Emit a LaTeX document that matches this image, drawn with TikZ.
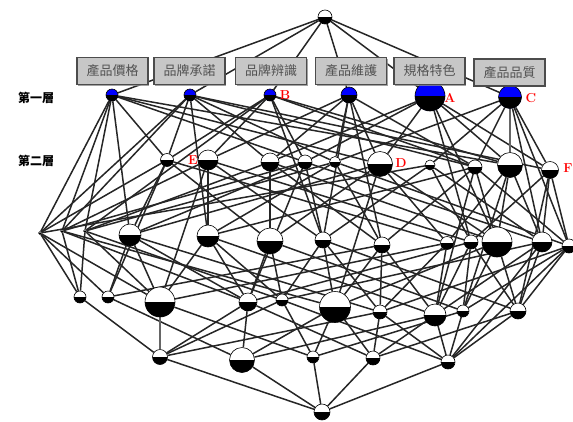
\documentclass[tikz,border=0pt]{standalone}
\usepackage{fontspec}
\newfontfamily\cjk{Noto Sans CJK TC}
\usetikzlibrary{shadows,backgrounds}
\tikzset{
  wn/.style={circle, draw=black, line width=0.6pt, fill=white, inner sep=0pt, minimum size=#1,
    path picture={\fill[black] (path picture bounding box.west) rectangle (path picture bounding box.south east);}},
  bn/.style={wn=#1, fill=blue},
  ed/.style={draw=black!85, line width=1.5pt},
  thk/.style={draw=black!60, line width=2.8pt},
  attr/.style={draw=black!70, line width=1.3pt, fill=black!22, minimum width=71pt, minimum height=27pt,
    inner sep=0pt, text=black!68, font=\cjk\fontsize{13}{13}\selectfont,
    drop shadow={shadow xshift=1.2pt, shadow yshift=-1.2pt, fill=black!45, opacity=0.8}},
  lbl/.style={text=red, inner sep=0pt, font=\bfseries\fontsize{13}{13}\selectfont},
  lay/.style={inner sep=0pt, font=\cjk\bfseries\fontsize{12}{12}\selectfont}
}
\begin{document}
\begin{tikzpicture}[x=1pt,y=-1pt]
\useasboundingbox (0,0) rectangle (573,421);
% top
\node[wn=14pt] (T) at (325,17) {};
% level 1
\node[bn=12pt] (A1) at (112,95) {};
\node[bn=12pt] (A2) at (190,95) {};
\node[bn=12pt] (A3) at (270,95) {};
\node[bn=16pt] (A4) at (349,95) {};
\node[bn=30pt] (A5) at (430,96) {};
\node[bn=23pt] (A6) at (510,97) {};
% level 2
\node[wn=13pt] (B1) at (167,160) {};
\node[wn=20pt] (B2) at (208,160) {};
\node[wn=18pt] (B3) at (270,162) {};
\node[wn=14pt] (B4) at (305,162) {};
\node[wn=11pt] (B5) at (335,162) {};
\node[wn=25pt] (B6) at (380,164) {};
\node[wn=10pt] (B7) at (430,165) {};
\node[wn=14pt] (B8) at (475,167) {};
\node[wn=25pt] (B9) at (510,165) {};
\node[wn=17pt] (B10) at (550,170) {};
% level 3
\node[wn=3pt] (C0) at (40,233) {};
\node[wn=3pt] (C1) at (62,231) {};
\node[wn=3pt] (C2) at (85,231) {};
\node[wn=22pt] (C3) at (130,235) {};
\node[wn=22pt] (C4) at (208,236) {};
\node[wn=26pt] (C5) at (270,241) {};
\node[wn=16pt] (C6) at (323,240) {};
\node[wn=16pt] (C7) at (382,245) {};
\node[wn=13pt] (C8) at (447,243) {};
\node[wn=14pt] (C9) at (471,242) {};
\node[wn=30pt] (C10) at (497,242) {};
\node[wn=20pt] (C11) at (542,242) {};
\node[wn=14pt] (C12) at (569,246) {};
% level 4
\node[wn=12pt] (D1) at (80,297) {};
\node[wn=12pt] (D2) at (108,297) {};
\node[wn=30pt] (D3) at (160,302) {};
\node[wn=18pt] (D4) at (248,302) {};
\node[wn=12pt] (D5) at (282,300) {};
\node[wn=31pt] (D6) at (335,307) {};
\node[wn=14pt] (D7) at (380,312) {};
\node[wn=22pt] (D8) at (435,315) {};
\node[wn=12pt] (D9) at (463,311) {};
\node[wn=16pt] (D10) at (518,311) {};
% level 5
\node[wn=15pt] (E1) at (160,357) {};
\node[wn=25pt] (E2) at (242,360) {};
\node[wn=12pt] (E3) at (313,357) {};
\node[wn=14pt] (E4) at (373,358) {};
\node[wn=14pt] (E5) at (448,362) {};
% bottom
\node[wn=16pt] (Z) at (322,412) {};

% ---------- edges behind nodes ----------
\begin{pgfonlayer}{background}
\foreach \a/\b in {T/A1,T/A2,T/A3,T/A4,T/A5,T/A6,
  A1/C0,A1/C1,A1/C2,A1/B1,A1/B4,A1/B6,A1/B9,A1/C3,
  A2/C0,A2/C1,A2/B1,A2/B3,A2/B5,A2/B8,A2/B10,A2/C4,
  A3/C2,A3/B1,A3/B2,A3/B4,A3/B8,A3/B9,A3/C6,
  A4/B2,A4/B3,A4/B5,A4/B6,A4/B8,A4/C6,A4/C7,
  A5/B3,A5/B4,A5/B6,A5/B9,A5/B10,A5/C10,A5/C9,
  A6/B5,A6/B7,A6/B8,A6/B10,A6/C11,A6/C12,
  B1/C0,B1/C3,B1/C5,B1/C8,B1/D2,
  B2/C4,B2/C1,B2/C6,B2/C9,B2/D3,
  B3/C5,B3/C2,B3/C7,B3/C10,
  B4/C3,B4/C6,B4/C11,B4/C1,B4/D4,
  B5/C4,B5/C7,B5/C12,B5/C2,
  B6/C5,B6/C8,B6/C10,B6/C3,B6/D6,
  B7/C6,B7/C9,B7/C11,B7/C0,
  B8/C7,B8/C10,B8/C12,B8/C4,B8/D8,
  B9/C8,B9/C11,B9/C10,B9/D9,
  B10/C9,B10/C11,B10/C12,B10/D10,
  C0/D1,C0/D2,C0/D3,
  C1/D1,C1/D4,C1/D6,
  C2/D1,C2/D3,C2/D5,
  C3/D2,C3/D3,C3/D7,C3/D4,
  C4/D3,C4/D4,C4/D8,C4/D5,
  C5/D4,C5/D5,C5/D9,
  C6/D5,C6/D6,C6/D10,C6/D7,
  C7/D6,C7/D7,C7/D2,C7/D8,
  C8/D7,C8/D8,C8/D3,
  C9/D8,C9/D9,C9/D4,C9/D10,
  C10/D9,C10/D10,C10/D6,
  C11/D10,C11/D8,C11/D5,C11/E5,
  C12/D9,C12/D10,C12/D7,C12/E5,
  D1/E1,D2/E2,D3/E3,
  D4/E2,D4/E1,D4/E4,
  D5/E1,D5/E3,D5/E5,
  D6/E3,D6/E2,D6/E4,
  D7/E4,D7/E1,D7/E5,
  D8/E5,D8/E2,D8/E4,
  D9/E3,D9/E5,
  D10/E4,D10/E5,
  E1/Z,E2/Z,E3/Z,E4/Z,E5/Z}
  \draw[ed] (\a) -- (\b);
\draw[thk] (A6) -- (B9);
\draw[thk] (D3) -- (E1);
\end{pgfonlayer}

% ---------- attribute boxes ----------
\node[attr] (k1) at (112.5,71) {產品價格};
\node[attr] (k2) at (189.5,71) {品牌承諾};
\node[attr] (k3) at (271,71) {品牌辨識};
\node[attr] (k4) at (351,71) {產品維護};
\node[attr] (k5) at (429.5,71) {規格特色};
\node[attr] (k6) at (509.5,72.5) {產品品質};

% ---------- letters ----------
\node[lbl] (lA) at (450,98) {A};
\node[lbl] (lB) at (285,95) {B};
\node[lbl] (lC) at (531,98) {C};
\node[lbl] (lD) at (401,163) {D};
\node[lbl] (lE) at (193,160) {E};
\node[lbl] (lF) at (568,168) {F};

% ---------- layer labels ----------
\node[lay] (y1) at (36,98) {第一層};
\node[lay] (y2) at (36,161) {第二層};
\end{tikzpicture}
\end{document}
